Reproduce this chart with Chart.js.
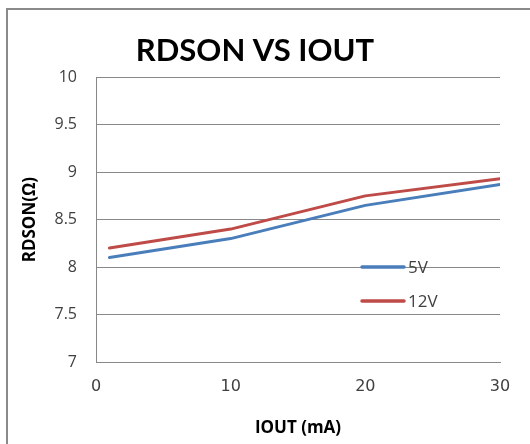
<!DOCTYPE html>
<html>
<head>
<meta charset="utf-8">
<script src="https://cdn.jsdelivr.net/npm/chart.js@4"></script>
<style>
  html, body { margin: 0; padding: 0; background: #fff; overflow: hidden; }
  .wrap { position: relative; width: 530px; height: 444px; }
  .frame { position: absolute; left: 6px; top: 8px; width: 540px; height: 460px; border: 2px solid #8a8a8a; box-sizing: border-box; }
  canvas { position: absolute; left: 0; top: 0; }
</style>
</head>
<body>
<div class="wrap">
  <div class="frame"></div>
  <canvas id="myChart" width="530" height="444"></canvas>
</div>
<script>
// chart data
const iout = [1, 10, 20, 30];
const rdson5v = [8.1, 8.3, 8.65, 8.87];
const rdson12v = [8.2, 8.4, 8.75, 8.93];
const seriesNames = ['5V', '12V'];

const blue = '#4a7ebb';
const red = '#be4b48';
const textColor = '#404040';

function points(ys) {
    return iout.map((x, i) => ({ x: x, y: ys[i] }));
}

// legend drawn inside the plot area, like the original
const innerLegend = {
    id: 'innerLegend',
    afterDatasetsDraw(chart) {
        const c = chart.ctx;
        const x0 = 362, x1 = 404;
        const rows = [267, 301];
        c.save();
        chart.data.datasets.forEach((ds, i) => {
            const y = rows[i];
            c.strokeStyle = ds.borderColor;
            c.lineWidth = 3.5;
            c.lineCap = 'round';
            c.beginPath();
            c.moveTo(x0, y);
            c.lineTo(x1, y);
            c.stroke();
            c.fillStyle = textColor;
            c.font = '17px "Open Sans"';
            c.textBaseline = 'middle';
            c.fillText(ds.label, x1 + 4, y + 1);
        });
        c.restore();
    }
};

const ctx = document.getElementById('myChart').getContext('2d');
const myChart = new Chart(ctx, {
    type: 'line',
    data: {
        datasets: [{
            label: seriesNames[0],
            data: points(rdson5v),
            borderColor: blue,
            backgroundColor: blue,
            borderWidth: 3,
            pointRadius: 0,
            borderJoinStyle: 'round',
            borderCapStyle: 'round'
        }, {
            label: seriesNames[1],
            data: points(rdson12v),
            borderColor: red,
            backgroundColor: red,
            borderWidth: 3,
            pointRadius: 0,
            borderJoinStyle: 'round',
            borderCapStyle: 'round'
        }]
    },
    options: {
        responsive: false,
        animation: false,
        layout: {
            padding: { left: 10, top: 20, right: 30, bottom: 4 }
        },
        plugins: {
            legend: { display: false },
            tooltip: { enabled: false },
            title: {
                display: true,
                text: 'RDSON VS IOUT',
                color: '#000',
                font: { family: 'Lato', size: 31, weight: 'bold', lineHeight: 1.2 },
                padding: { top: 12, bottom: 8 }
            }
        },
        scales: {
            x: {
                type: 'linear',
                min: 0,
                max: 30,
                afterFit(scale) { scale.height = 78; },
                ticks: {
                    stepSize: 10,
                    color: textColor,
                    padding: 15,
                    maxRotation: 0,
                    font: { family: 'DejaVu Sans', size: 16 }
                },
                grid: { display: false, drawTicks: false },
                border: { display: true, color: '#888888', width: 1 },
                title: {
                    display: true,
                    text: 'IOUT (mA)',
                    color: '#000',
                    font: { family: 'Open Sans', size: 17, weight: 'bold', lineHeight: 1.2 },
                    padding: { top: 0, bottom: 2 }
                }
            },
            y: {
                min: 7,
                max: 10,
                afterFit(scale) { scale.width = 86; },
                ticks: {
                    stepSize: 0.5,
                    color: textColor,
                    padding: 19,
                    font: { family: 'Open Sans', size: 16 },
                    callback: v => String(v)
                },
                grid: { color: '#888888', lineWidth: 1, drawTicks: false },
                border: { display: true, color: '#888888', width: 1 },
                title: {
                    display: true,
                    text: 'RDSON(Ω)',
                    color: '#000',
                    font: { family: 'Open Sans', size: 17, weight: 'bold', lineHeight: 1.2 },
                    padding: { top: 10, bottom: 0 }
                }
            }
        }
    },
    plugins: [innerLegend]
});
</script>
</body>
</html>
